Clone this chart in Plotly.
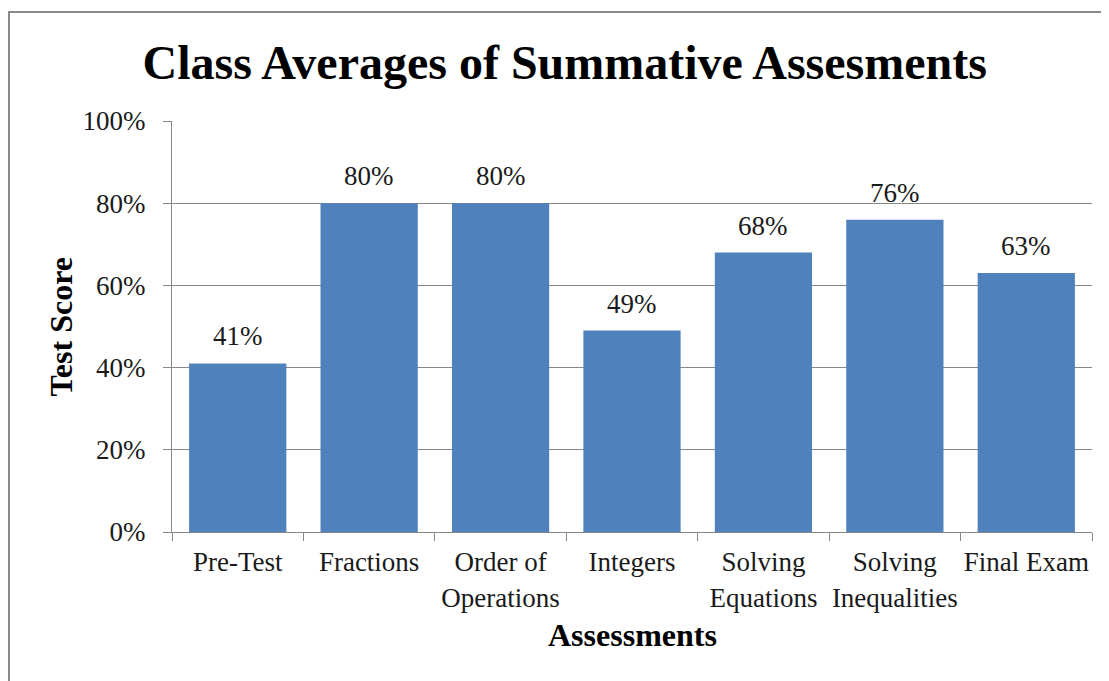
import plotly.graph_objects as go

categories = ["Pre-Test", "Fractions", "Order of<br>Operations", "Integers",
              "Solving<br>Equations", "Solving<br>Inequalities", "Final Exam"]
scores = [0.41, 0.80, 0.80, 0.49, 0.68, 0.76, 0.63]
labels = ["41%", "80%", "80%", "49%", "68%", "76%", "63%"]

FONT = "Liberation Serif, Times New Roman, serif"
GRID = "#878787"
TXT = "#1a1a1a"

fig = go.Figure()
fig.add_trace(go.Bar(
    x=categories, y=scores,
    marker=dict(color="#4F81BD", line=dict(width=0)),
    hoverinfo="skip",
))

for c, v, t in zip(categories, scores, labels):
    fig.add_annotation(x=c, y=v, text=t, showarrow=False, yanchor="middle",
                       yshift=27, font=dict(family=FONT, size=27, color=TXT))

# axis titles
fig.add_annotation(xref="paper", yref="paper", x=-0.1217, y=0.5,
                   text="<b>Test Score</b>", textangle=-90, showarrow=False,
                   xanchor="center", yanchor="middle",
                   font=dict(family=FONT, size=32, color="black"))
fig.add_annotation(xref="paper", yref="paper", x=0.5, y=-0.2506,
                   text="<b>Assessments</b>", showarrow=False,
                   xanchor="center", yanchor="middle",
                   font=dict(family=FONT, size=32, color="black"))

# chart border
fig.add_shape(type="rect", xref="paper", yref="paper",
              x0=-0.1772, x1=1.2, y0=-0.5, y1=1.2652,
              line=dict(color="#8a8a8a", width=2), layer="below")

fig.update_layout(
    width=1109, height=681,
    margin=dict(l=164, r=25, t=113, b=157, autoexpand=False),
    paper_bgcolor="white", plot_bgcolor="white",
    bargap=0.26,
    showlegend=False,
    font=dict(family=FONT, color=TXT),
    title=dict(text="<b>Class Averages of Summative Assesments</b>",
               x=0.502, xanchor="center", y=0.921, yanchor="middle",
               font=dict(family=FONT, size=48, color="black")),
)
fig.update_xaxes(
    type="category", tickson="boundaries", ticks="outside", ticklen=8,
    tickcolor=GRID, showline=True, linecolor=GRID, linewidth=1,
    showgrid=False, tickfont=dict(family=FONT, size=27, color=TXT),
    tickangle=0, automargin=False, ticklabelstandoff=6,
)
fig.update_yaxes(
    range=[0, 1], dtick=0.2, tick0=0, tickformat=".0%",
    ticks="outside", ticklen=8, tickcolor=GRID,
    showline=True, linecolor=GRID, linewidth=1,
    showgrid=True, gridcolor=GRID, gridwidth=1, zeroline=False,
    tickfont=dict(family=FONT, size=27, color=TXT),
    automargin=False, ticklabelstandoff=12,
)

fig.write_html("out.html")
